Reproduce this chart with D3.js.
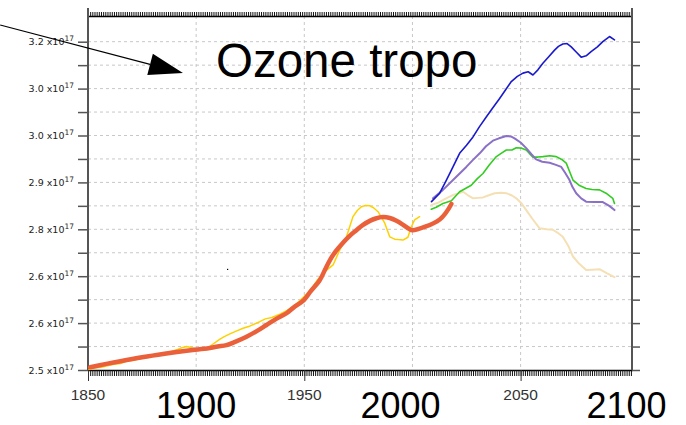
<!DOCTYPE html>
<html>
<head>
<meta charset="utf-8">
<script src="https://cdn.jsdelivr.net/npm/d3@7"></script>
<style>
  body { margin: 0; background: #fff; }
  svg { display: block; }
  .grid line { stroke: #c8c8c8; stroke-dasharray: 3,3; }
</style>
</head>
<body>
<div id="chart"></div>
<script>
// values in units of 1e17
const yTickValues = [2.5, 2.6, 2.7, 2.8, 2.9, 3.0, 3.1, 3.2];
const yTickLabels = ["2.5", "2.6", "2.6", "2.8", "2.9", "3.0", "3.0", "3.2"];
const yMinorValues = [2.55, 2.65, 2.75, 2.85, 2.95, 3.05, 3.15];
const xLabelYears = [1850, 1950, 2050];
const xGridYears = [1900, 1950, 2000, 2050];
const bigLabels = ["1900", "2000", "2100"];
const bigLabelYears = [1900, 1994.5, 2099];

// historical, noisy (yellow)
const histYears = [1850.5,1853,1856,1859,1862,1865,1868,1871,1874,1877,1880,1883,1886,1888,1891,1893,1895.6,1897.5,1899.4,1902,1905.6,1908,1911,1913,1915.6,1918.5,1921.7,1925,1929.4,1932,1935,1938.7,1942,1944.8,1947.5,1949.8,1952,1954.1,1956.2,1958.5,1960.3,1963.3,1966.4,1969.5,1972.5,1974.5,1976.4,1978.3,1980.3,1982,1984.1,1986,1987.2,1989.5,1991.8,1993.5,1995.6,1997.9,1999.5,2001,2003.3];
const histValues = [2.501,2.504,2.506,2.509,2.512,2.514,2.519,2.521,2.524,2.527,2.530,2.532,2.537,2.539,2.543,2.547,2.550,2.548,2.546,2.545,2.548,2.556,2.566,2.571,2.577,2.583,2.589,2.594,2.603,2.609,2.612,2.619,2.627,2.635,2.646,2.656,2.667,2.678,2.693,2.704,2.713,2.724,2.756,2.784,2.827,2.840,2.848,2.851,2.850,2.846,2.8375,2.823,2.813,2.784,2.779,2.778,2.777,2.783,2.8055,2.820,2.827];

// smoothed reference (thick orange)
const smoothYears = [1851,1875,1899.4,1905,1910,1914,1918,1923.3,1928,1932.5,1937,1941.8,1945,1949.8,1953,1957.2,1959.5,1961.8,1964.5,1967.8,1971,1974.1,1977,1980.3,1983,1986.3,1989.5,1992.6,1995.5,1998.7,2000,2012.6,2018];
const smoothValues = [2.506,2.527,2.543,2.546,2.550,2.553,2.560,2.571,2.583,2.596,2.609,2.621,2.633,2.649,2.668,2.692,2.713,2.734,2.753,2.771,2.786,2.798,2.809,2.818,2.823,2.826,2.824,2.818,2.810,2.800,2.798,2.821,2.854];

// scenarios
const blueYears = [2008.8,2012.6,2015.7,2018,2021.8,2025,2028,2031,2034.2,2037,2040.3,2043,2045.7,2048.5,2051.1,2053.5,2055.7,2058,2060.3,2063,2065.7,2067.5,2069.5,2071.5,2073.4,2075.7,2078,2080.3,2082.6,2085.5,2088,2091.1,2093.4];
const blueValues = [2.859,2.877,2.905,2.926,2.962,2.979,2.997,3.019,3.040,3.058,3.079,3.097,3.115,3.126,3.133,3.136,3.129,3.140,3.154,3.168,3.182,3.190,3.195,3.196,3.189,3.178,3.167,3.170,3.179,3.189,3.200,3.211,3.204];

const purpleYears = [2009.5,2014.1,2019,2024.9,2028,2031.1,2034,2037.2,2040,2043.4,2045.5,2047.2,2050,2052.6,2055,2057.2,2060,2063.4,2066,2068.8,2070.5,2072.6,2074,2075.7,2078,2080.3,2084,2088,2091,2093.4];
const purpleValues = [2.866,2.884,2.906,2.933,2.948,2.962,2.977,2.989,2.994,2.999,2.998,2.994,2.985,2.973,2.960,2.949,2.944,2.942,2.938,2.933,2.921,2.905,2.890,2.877,2.866,2.859,2.858,2.858,2.850,2.841];

const greenYears = [2008.7,2011,2014.1,2018,2021.8,2024.5,2027.2,2030,2032.6,2035.5,2038.8,2041,2043.4,2046,2048,2050.5,2052.6,2054,2055.7,2058,2060.3,2063.5,2066.5,2069,2071.1,2072.5,2074.2,2077,2080.3,2083,2086.5,2089.5,2092.6,2093.4];
const greenValues = [2.843,2.847,2.855,2.861,2.880,2.887,2.894,2.908,2.919,2.937,2.955,2.962,2.969,2.969,2.974,2.973,2.969,2.962,2.954,2.954,2.955,2.957,2.955,2.949,2.941,2.925,2.905,2.894,2.887,2.885,2.884,2.877,2.866,2.855];

const wheatYears = [2008.8,2011.5,2014.1,2016.5,2018.7,2021,2023.4,2025.5,2028,2030.5,2032.6,2035,2038,2041,2043.4,2046,2048,2050.5,2052.6,2055.5,2058.8,2062,2064.9,2067,2069.5,2072,2074.2,2077,2080.3,2083,2086.5,2090,2093.4];
const wheatValues = [2.852,2.856,2.862,2.868,2.873,2.876,2.880,2.873,2.866,2.867,2.868,2.872,2.877,2.878,2.877,2.872,2.866,2.855,2.841,2.822,2.802,2.800,2.799,2.793,2.784,2.765,2.742,2.727,2.713,2.714,2.715,2.706,2.698];

// stray dot
const dotYears = [1914.5];
const dotValues = [2.7147];

// arrow annotation (data units)
const arrowYears = [1809.4, 1893.9];
const arrowValues = [3.2356, 3.1333];

const W = 686, H = 425;
const margin = { top: 16, right: 54, bottom: 55, left: 88 };

const svg = d3.select("#chart").append("svg")
  .attr("width", W)
  .attr("height", H);

const x = d3.scaleLinear().domain([1850, 2101.5]).range([margin.left, W - margin.right]);
const y = d3.scaleLinear().domain([2.5, 3.2548]).range([H - margin.bottom, margin.top]);

const zip = (xs, ys) => xs.map((v, i) => [v, ys[i]]);

// grid
const grid = svg.append("g").attr("class", "grid");
grid.selectAll(".h")
  .data(yTickValues.concat(yMinorValues).filter(v => v > 2.5))
  .join("line")
  .attr("x1", margin.left).attr("x2", W - margin.right)
  .attr("y1", d => y(d)).attr("y2", d => y(d));
grid.selectAll(".v")
  .data(xGridYears)
  .join("line")
  .attr("x1", d => x(d)).attr("x2", d => x(d))
  .attr("y1", margin.top).attr("y2", H - margin.bottom);

// axes
const yearTicks = d3.range(1850, 2102);
svg.append("g")
  .attr("transform", `translate(0,${H - margin.bottom})`)
  .call(d3.axisBottom(x).tickValues(yearTicks).tickSize(6).tickFormat("").tickSizeOuter(0))
  .call(g => g.select(".domain").attr("stroke", "#000").attr("stroke-width", 1.5))
  .call(g => g.selectAll(".tick line").attr("stroke", "#111"));
svg.append("g")
  .attr("transform", `translate(0,${H - margin.bottom})`)
  .call(d3.axisBottom(x).tickValues(xLabelYears).tickSize(11).tickFormat("").tickSizeOuter(0))
  .call(g => g.select(".domain").remove())
  .call(g => g.selectAll(".tick line").attr("stroke", "#333"));
svg.append("g")
  .attr("transform", `translate(0,${margin.top})`)
  .call(d3.axisTop(x).tickValues(yearTicks).tickSize(4).tickFormat("").tickSizeOuter(0))
  .call(g => g.select(".domain").attr("stroke", "#000").attr("stroke-width", 1.5))
  .call(g => g.selectAll(".tick line").attr("stroke", "#111"));

const yAll = yTickValues.concat(yMinorValues);
svg.append("g")
  .attr("transform", `translate(${margin.left},0)`)
  .call(d3.axisLeft(y).tickValues(yAll).tickSize(10).tickFormat("").tickSizeOuter(0))
  .call(g => g.selectAll(".tick line").attr("stroke", "#555").attr("stroke-width", 1.5));
svg.append("g")
  .attr("transform", `translate(${W - margin.right},0)`)
  .call(d3.axisRight(y).tickValues(yAll).tickSize(8).tickFormat("").tickSizeOuter(0))
  .call(g => g.selectAll(".tick line").attr("stroke", "#555").attr("stroke-width", 1.5));
// vertical frame lines, reaching a little above the top axis
[margin.left, W - margin.right].forEach(px => {
  svg.append("line")
    .attr("x1", px).attr("x2", px)
    .attr("y1", margin.top - 8).attr("y2", H - margin.bottom)
    .attr("stroke", "#555").attr("stroke-width", 2);
});

// y tick labels "a.b x10^17"
const yl = svg.append("g")
  .attr("font-family", "DejaVu Sans, sans-serif")
  .attr("fill", "#222");
yl.selectAll("text")
  .data(yTickValues)
  .join("text")
  .attr("x", margin.left - 14)
  .attr("y", d => y(d) + 3.5)
  .attr("text-anchor", "end")
  .attr("font-size", 9.5)
  .each(function(d, i) {
    const t = d3.select(this);
    t.append("tspan").text(yTickLabels[i] + " x10");
    t.append("tspan").attr("dy", -4).attr("font-size", 7.5).text("17");
  });

// x tick labels
svg.append("g")
  .selectAll("text")
  .data(xLabelYears)
  .join("text")
  .attr("x", d => x(d))
  .attr("y", 400)
  .attr("text-anchor", "middle")
  .attr("font-family", "Liberation Sans, Arial, sans-serif")
  .attr("font-size", 15.5)
  .attr("fill", "#333")
  .text(d => d);

// big decade labels
svg.append("g")
  .selectAll("text")
  .data(bigLabels)
  .join("text")
  .attr("x", (d, i) => x(bigLabelYears[i]))
  .attr("y", 418)
  .attr("text-anchor", "middle")
  .attr("font-family", "Liberation Sans, Arial, sans-serif")
  .attr("font-size", 36)
  .attr("fill", "#000")
  .text(d => d);

// lines
const line = d3.line().x(d => x(d[0])).y(d => y(d[1]));
const smoothLine = d3.line().x(d => x(d[0])).y(d => y(d[1])).curve(d3.curveCatmullRom.alpha(0.5));
const series = [
  { pts: zip(histYears, histValues), color: "#ffd000", w: 1.5, gen: line },
  { pts: zip(wheatYears, wheatValues), color: "#f5e0b5", w: 2, gen: line },
  { pts: zip(greenYears, greenValues), color: "#33cc22", w: 1.6, gen: line },
  { pts: zip(purpleYears, purpleValues), color: "#8a70c6", w: 2, gen: line },
  { pts: zip(blueYears, blueValues), color: "#1a1acc", w: 1.6, gen: line },
  { pts: zip(smoothYears, smoothValues), color: "#ea603a", w: 4.5, gen: smoothLine }
];
svg.append("g")
  .selectAll("path")
  .data(series)
  .join("path")
  .attr("d", d => d.gen(d.pts))
  .attr("fill", "none")
  .attr("stroke", d => d.color)
  .attr("stroke-width", d => d.w)
  .attr("stroke-linejoin", "round")
  .attr("stroke-linecap", "round");

svg.append("g")
  .selectAll("rect")
  .data(zip(dotYears, dotValues))
  .join("rect")
  .attr("x", d => x(d[0]) - 0.5)
  .attr("y", d => y(d[1]) - 0.5)
  .attr("width", 1.2).attr("height", 1.2)
  .attr("fill", "#000");

// arrow
const a0 = [x(arrowYears[0]), y(arrowValues[0])];
const a1 = [x(arrowYears[1]), y(arrowValues[1])];
const ang = Math.atan2(a1[1] - a0[1], a1[0] - a0[0]);
const headLen = 34, headHalf = 11;
const bx = a1[0] - headLen * Math.cos(ang), by = a1[1] - headLen * Math.sin(ang);
svg.append("line")
  .attr("x1", a0[0]).attr("y1", a0[1])
  .attr("x2", bx).attr("y2", by)
  .attr("stroke", "#000").attr("stroke-width", 1.2);
svg.append("polygon")
  .attr("points", [
    a1,
    [bx - headHalf * Math.sin(ang), by + headHalf * Math.cos(ang)],
    [bx + headHalf * Math.sin(ang), by - headHalf * Math.cos(ang)]
  ].map(p => p.join(",")).join(" "))
  .attr("fill", "#000");

// title
svg.append("text")
  .attr("x", 216)
  .attr("y", 77)
  .attr("font-family", "Liberation Sans, Arial, sans-serif")
  .attr("font-size", 47.5)
  .attr("fill", "#000")
  .text("Ozone tropo");
</script>
</body>
</html>
